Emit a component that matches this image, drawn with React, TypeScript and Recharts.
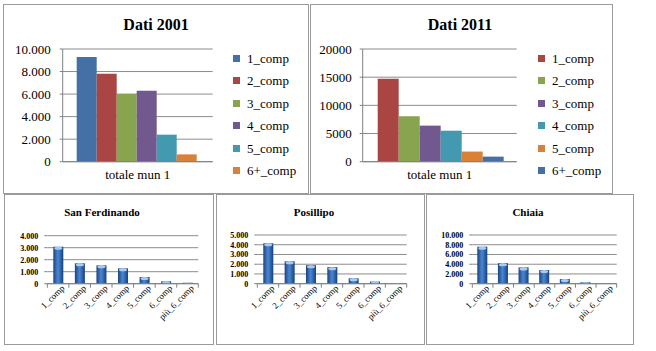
import React from 'react';
import { BarChart, Bar, XAxis, YAxis, CartesianGrid } from 'recharts';

const FONT = '"Liberation Serif", "Times New Roman", Times, serif';

// ---- Top charts data ----
const topCategory = ['totale mun 1'];
const seriesNames = ['1_comp', '2_comp', '3_comp', '4_comp', '5_comp', '6+_comp'];
const values2001 = [9300, 7800, 6000, 6300, 2400, 650];
const values2011 = [14700, 8050, 6400, 5500, 1800, 900];
const colors2001 = ['#4470A5', '#A94543', '#89A44F', '#71588F', '#4299B0', '#DA8138'];
const colors2011 = ['#A94543', '#89A44F', '#71588F', '#4299B0', '#DA8138', '#4470A5'];
const ticks2001 = [0, 2000, 4000, 6000, 8000, 10000];
const ticks2011 = [0, 5000, 10000, 15000, 20000];

// ---- Bottom charts data ----
const zoneCategories = ['1_comp', '2_comp', '3_comp', '4_comp', '5_comp', '6_comp', 'più_6_comp'];
const sanFerdinando = [3080, 1700, 1530, 1280, 560, 200, 80];
const posillipo = [4150, 2300, 1900, 1700, 550, 220, 60];
const chiaia = [7600, 4200, 3350, 2800, 950, 300, 80];
const ticksSF = [0, 1000, 2000, 3000, 4000];
const ticksPos = [0, 1000, 2000, 3000, 4000, 5000];
const ticksChiaia = [0, 2000, 4000, 6000, 8000, 10000];

const dotFmt = (n: number) => String(n).replace(/\B(?=(\d{3})+(?!\d))/g, '.');
const plainFmt = (n: number) => String(n);

type Rect = { x: number; y: number; w: number; h: number };

const BORDER = '#9a9a9a';
const GRID = '#8c8c8c';

function TopChart(props: {
  box: Rect; plot: Rect; title: string; titleX: number; values: number[]; colors: string[];
  ticks: number[]; fmt: (n: number) => string; legendX: number; tickMargin: number; catGap: number;
}) {
  const { box, plot, title, titleX, values, colors, ticks, fmt, legendX, tickMargin, catGap } = props;
  const chartW = box.w - 2, chartH = box.h - 2;
  const ox = box.x + 1, oy = box.y + 1;
  const left = plot.x - ox, top = plot.y - oy;
  const xh = 30;
  const margin = { top, left: 0, right: chartW - left - plot.w, bottom: chartH - top - plot.h - xh };
  const row: any = { name: topCategory[0] };
  seriesNames.forEach((s, i) => { row[s] = values[i]; });
  return (
    <>
      <div style={{ position: 'absolute', left: box.x, top: box.y, width: box.w - 2, height: box.h - 2, border: `1px solid ${BORDER}` }}>
        <BarChart width={chartW} height={chartH} data={[row]} margin={margin} barGap={0} barCategoryGap={catGap}>
          <CartesianGrid vertical={false} stroke={GRID} />
          <XAxis dataKey="name" tickLine={false} tickSize={0} tickMargin={8} height={xh}
            axisLine={{ stroke: '#808080' }} tick={{ fontSize: 13, fontFamily: FONT, fill: '#000' }} />
          <YAxis type="number" domain={[0, ticks[ticks.length - 1]]} ticks={ticks} interval={0} width={left}
            tickFormatter={fmt} tickSize={3} tickMargin={tickMargin}
            axisLine={{ stroke: '#808080' }} tickLine={{ stroke: '#808080' }}
            tick={{ fontSize: 13, fontFamily: FONT, fill: '#000' }} />
          {seriesNames.map((s, i) => (
            <Bar key={s} dataKey={s} fill={colors[i]} isAnimationActive={false} />
          ))}
        </BarChart>
      </div>
      <div style={{ position: 'absolute', left: titleX, top: 17, transform: 'translateX(-50%)', fontFamily: FONT, fontWeight: 'bold', fontSize: 16, lineHeight: '16px', whiteSpace: 'nowrap' }}>{title}</div>
      <div style={{ position: 'absolute', left: legendX, top: 47, display: 'flex', flexDirection: 'column' }}>
        {seriesNames.map((s, i) => (
          <div key={s} style={{ height: 22.5, display: 'flex', alignItems: 'center' }}>
            <div style={{ width: 7, height: 7, background: colors[i], marginRight: 7 }} />
            <span style={{ fontFamily: FONT, fontSize: 13, lineHeight: '13px', whiteSpace: 'nowrap' }}>{s}</span>
          </div>
        ))}
      </div>
    </>
  );
}

function ZoneChart(props: { box: Rect; plot: Rect; title: string; titleX: number; values: number[]; ticks: number[]; id: string }) {
  const { box, plot, title, titleX, values, ticks, id } = props;
  const data = zoneCategories.map((c, i) => ({ name: c, v: values[i] }));
  const chartW = box.w - 2, chartH = box.h - 2;
  const ox = box.x + 1, oy = box.y + 1;
  const left = plot.x - ox, top = plot.y - oy;
  const xh = 50;
  const margin = { top, left: 0, right: chartW - left - plot.w, bottom: chartH - top - plot.h - xh };
  const step = plot.w / zoneCategories.length;
  const n = zoneCategories.length;
  const Tick = (p: any) => {
    const { x, y, payload, index } = p;
    const ax = x + 7, ay = y + 5;
    return (
      <g>
        <line x1={x - step / 2} y1={y} x2={x - step / 2} y2={y + 4} stroke="#808080" />
        {index === n - 1 && <line x1={x + step / 2} y1={y} x2={x + step / 2} y2={y + 4} stroke="#808080" />}
        <text x={ax} y={ay} transform={`rotate(-45 ${ax} ${ay})`} textAnchor="end" fontSize={9} fontFamily={FONT} fill="#000">{payload.value}</text>
      </g>
    );
  };
  const Cyl = (p: any) => {
    const { x, y, width, height } = p;
    if (!height || height <= 0) return <g />;
    const capH = Math.min(3, height);
    return (
      <g>
        <rect x={x} y={y} width={width} height={height} fill={`url(#${id}-grad)`} />
        <ellipse cx={x + width / 2} cy={y + capH / 2} rx={width / 2 - 1} ry={capH / 2} fill="#a9cbf0" />
      </g>
    );
  };
  return (
    <>
      <div style={{ position: 'absolute', left: box.x, top: box.y, width: box.w - 2, height: box.h - 2, border: `1px solid ${BORDER}` }}>
        <BarChart width={chartW} height={chartH} data={data} margin={margin}>
          <defs>
            <linearGradient id={`${id}-grad`} x1="0" y1="0" x2="1" y2="0">
              <stop offset="0%" stopColor="#1a4380" />
              <stop offset="45%" stopColor="#4a86cf" />
              <stop offset="60%" stopColor="#3c77c0" />
              <stop offset="100%" stopColor="#183f7a" />
            </linearGradient>
          </defs>
          <CartesianGrid vertical={false} stroke={GRID} />
          <XAxis dataKey="name" interval={0} tickSize={0} tickMargin={0} tickLine={false} height={xh}
            axisLine={{ stroke: '#808080' }} tick={<Tick />} />
          <YAxis type="number" domain={[0, ticks[ticks.length - 1]]} ticks={ticks} interval={0} width={left}
            tickFormatter={dotFmt} tickSize={3} tickMargin={6} axisLine={false} tickLine={{ stroke: '#808080' }}
            tick={{ fontSize: 8, fontFamily: FONT, fill: '#000', fontWeight: 'bold' }} />
          <Bar dataKey="v" barSize={10} shape={Cyl} isAnimationActive={false} />
        </BarChart>
      </div>
      <div style={{ position: 'absolute', left: titleX, top: 207, transform: 'translateX(-50%)', fontFamily: FONT, fontWeight: 'bold', fontSize: 11, lineHeight: '11px', whiteSpace: 'nowrap' }}>{title}</div>
    </>
  );
}

export default function App() {
  return (
    <div style={{ position: 'absolute', left: 0, top: 0, width: 656, height: 351, background: '#fff', overflow: 'hidden' }}>
      <TopChart box={{ x: 3, y: 4, w: 306, h: 190 }} plot={{ x: 62.7, y: 49, w: 150, h: 112.7 }}
        title="Dati 2001" titleX={156} values={values2001} colors={colors2001} ticks={ticks2001}
        fmt={dotFmt} legendX={233} tickMargin={9} catGap={14} />
      <TopChart box={{ x: 310, y: 4, w: 303, h: 190 }} plot={{ x: 362.7, y: 49, w: 154, h: 112.7 }}
        title="Dati 2011" titleX={460} values={values2011} colors={colors2011} ticks={ticks2011}
        fmt={plainFmt} legendX={538} tickMargin={8} catGap={15} />
      <ZoneChart id="sf" box={{ x: 4, y: 194, w: 210, h: 151 }} plot={{ x: 47.3, y: 235.7, w: 151, h: 48 }}
        title="San Ferdinando" titleX={102} values={sanFerdinando} ticks={ticksSF} />
      <ZoneChart id="pos" box={{ x: 216, y: 194, w: 209, h: 151 }} plot={{ x: 257.3, y: 235, w: 149.4, h: 48.7 }}
        title="Posillipo" titleX={314} values={posillipo} ticks={ticksPos} />
      <ZoneChart id="chi" box={{ x: 426, y: 194, w: 208, h: 151 }} plot={{ x: 472.3, y: 235, w: 144.4, h: 48.7 }}
        title="Chiaia" titleX={528} values={chiaia} ticks={ticksChiaia} />
    </div>
  );
}
